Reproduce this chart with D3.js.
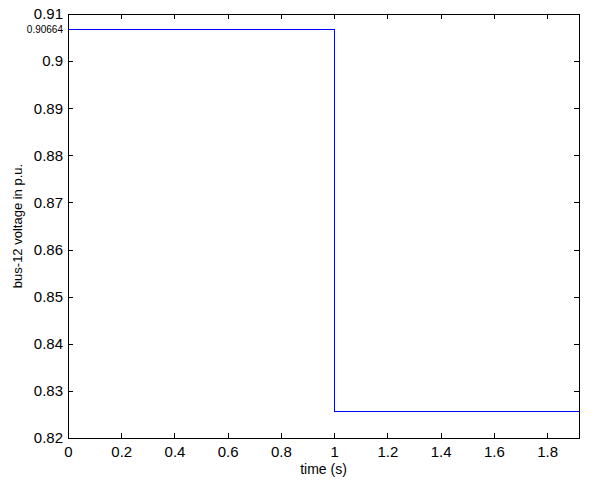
<!DOCTYPE html>
<html>
<head>
<meta charset="utf-8">
<script src="https://cdn.jsdelivr.net/npm/d3@7"></script>
<style>
  body { margin: 0; background: #fff; }
  text { font-family: Arial, "Liberation Sans", Helvetica, sans-serif; fill: #000; }
  line, path, rect { shape-rendering: crispEdges; }
</style>
</head>
<body>
<svg id="chart" width="607" height="482"></svg>
<script>
// step response of bus-12 voltage
const timePoints = [0, 1, 1, 1.92];
const voltage = [0.90664, 0.90664, 0.82573, 0.82573];
const xTicks = [0, 0.2, 0.4, 0.6, 0.8, 1, 1.2, 1.4, 1.6, 1.8];
const yTicks = [0.82, 0.83, 0.84, 0.85, 0.86, 0.87, 0.88, 0.89, 0.9, 0.91];
const markedValue = ['0.90664'];

const svg = d3.select('#chart');
const margin = { left: 68, top: 14, right: 28, bottom: 44 };
const W = 607, H = 482;

const x = d3.scaleLinear().domain([0, 1.92]).range([margin.left, W - margin.right]);
const y = d3.scaleLinear().domain([0.82, 0.91]).range([H - margin.bottom, margin.top]);

const fmt = d => d3.format('')(+d.toFixed(2));

// bottom axis
svg.append('g')
    .attr('transform', `translate(0,${H - margin.bottom})`)
    .call(d3.axisBottom(x).tickValues(xTicks).tickSizeInner(-5).tickSizeOuter(0).tickPadding(8).tickFormat(fmt))
    .call(g => g.select('.domain').remove())
    .selectAll('text').attr('font-size', 15);

// top ticks
svg.append('g')
    .attr('transform', `translate(0,${margin.top})`)
    .call(d3.axisTop(x).tickValues(xTicks).tickSizeInner(-5).tickSizeOuter(0).tickFormat(''))
    .call(g => g.select('.domain').remove());

// left axis
svg.append('g')
    .attr('transform', `translate(${margin.left},0)`)
    .call(d3.axisLeft(y).tickValues(yTicks).tickSizeInner(-5).tickSizeOuter(0).tickPadding(5).tickFormat(fmt))
    .call(g => g.select('.domain').remove())
    .selectAll('text').attr('font-size', 15);

// right ticks
svg.append('g')
    .attr('transform', `translate(${W - margin.right},0)`)
    .call(d3.axisRight(y).tickValues(yTicks).tickSizeInner(-5).tickSizeOuter(0).tickFormat(''))
    .call(g => g.select('.domain').remove());

// marked value label
svg.selectAll('.mark-label')
    .data(markedValue)
    .enter()
    .append('text')
    .attr('class', 'mark-label')
    .attr('x', margin.left - 5)
    .attr('y', d => y(+d))
    .attr('dy', '0.35em')
    .attr('text-anchor', 'end')
    .attr('font-size', 10)
    .text(d => d);

// box
svg.append('rect')
    .attr('x', margin.left)
    .attr('y', margin.top)
    .attr('width', W - margin.left - margin.right)
    .attr('height', H - margin.top - margin.bottom)
    .attr('fill', 'none')
    .attr('stroke', '#000')
    .attr('stroke-width', 1);

svg.selectAll('.tick line').attr('stroke', '#000');

// line
const line = d3.line()
    .x((d, i) => x(timePoints[i]))
    .y(d => y(d));

svg.append('path')
    .datum(voltage)
    .attr('d', line)
    .attr('fill', 'none')
    .attr('stroke', '#0000ff')
    .attr('stroke-width', 1);

// labels
svg.append('text')
    .attr('x', (margin.left + W - margin.right) / 2)
    .attr('y', 474)
    .attr('text-anchor', 'middle')
    .attr('font-size', 14)
    .text('time (s)');

svg.append('text')
    .attr('transform', `translate(22,${(margin.top + H - margin.bottom) / 2}) rotate(-90)`)
    .attr('text-anchor', 'middle')
    .attr('font-size', 13)
    .text('bus-12 voltage in p.u.');
</script>
</body>
</html>
